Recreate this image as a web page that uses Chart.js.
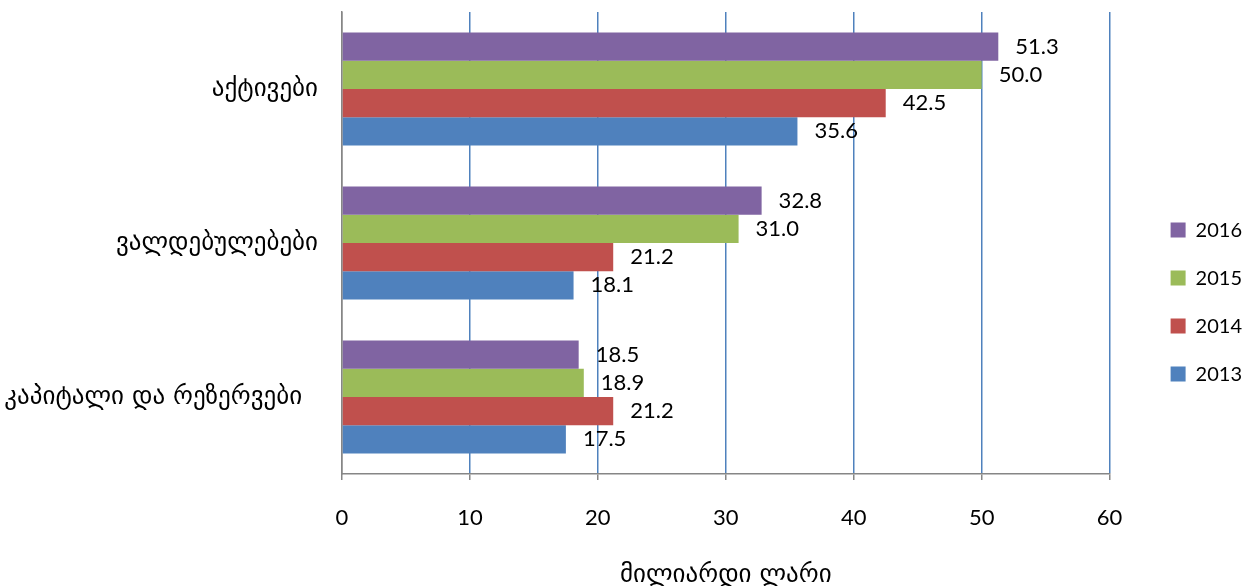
<!DOCTYPE html>
<html><head><meta charset="utf-8">
<script src="https://cdn.jsdelivr.net/npm/chart.js@4.4.0/dist/chart.umd.min.js"></script>
<style>html,body{margin:0;padding:0;background:#fff}#wrap{width:1244px;height:586px;position:relative}</style>
</head><body><div id="wrap"><canvas id="c"></canvas></div>
<script>
const categories = ['აქტივები', 'ვალდებულებები', 'კაპიტალი და რეზერვები  '];
const seriesNames = ['2016', '2015', '2014', '2013'];
const values2016 = [51.3, 32.8, 18.5];
const values2015 = [50.0, 31.0, 18.9];
const values2014 = [42.5, 21.2, 21.2];
const values2013 = [35.6, 18.1, 17.5];
const xTicks = [0, 10, 20, 30, 40, 50, 60];
const axisTitle = 'მილიარდი ლარი';

const seriesValues = [values2016, values2015, values2014, values2013];
const seriesColors = ['#8064A2', '#9BBB59', '#C0504D', '#4F81BD'];
const numFont = 'Lato, "DejaVu Sans", sans-serif';
const geoFont = '"DejaVu Sans", sans-serif';

const valueLabels = {
  id: 'valueLabels',
  afterDatasetsDraw(chart) {
    const ctx = chart.ctx;
    ctx.save();
    ctx.font = '22px ' + numFont;
    ctx.fillStyle = '#000';
    ctx.textAlign = 'left';
    ctx.textBaseline = 'middle';
    chart.data.datasets.forEach((ds, i) => {
      chart.getDatasetMeta(i).data.forEach((el, j) => {
        ctx.fillText(ds.data[j].toFixed(1), el.x + 17, el.y);
      });
    });
    ctx.restore();
  }
};

new Chart(document.getElementById('c'), {
  type: 'bar',
  data: {
    labels: categories,
    datasets: seriesNames.map((n, i) => ({
      label: n,
      data: seriesValues[i],
      backgroundColor: seriesColors[i],
      borderWidth: 0,
      categoryPercentage: 0.734,
      barPercentage: 1.0
    }))
  },
  options: {
    indexAxis: 'y',
    responsive: true,
    maintainAspectRatio: false,
    animation: false,
    layout: { padding: { top: 12, right: -8, left: 0, bottom: 0 } },
    plugins: {
      tooltip: { enabled: false },
      legend: {
        position: 'right',
        title: { display: true, text: '', font: { size: 1 }, padding: { top: 5, bottom: 0 } },
        labels: {
          boxWidth: 15, boxHeight: 15, padding: 28, color: '#000',
          font: { family: numFont, size: 20 }
        }
      }
    },
    scales: {
      x: {
        type: 'linear',
        min: xTicks[0], max: xTicks[xTicks.length - 1],
        afterBuildTicks(s) { s.ticks = xTicks.map(v => ({ value: v })); },
        grid: {
          color: c => (c.tick && c.tick.value === 0) ? '#868686' : '#4F81BD',
          lineWidth: 1.5,
          tickLength: 6,
          tickColor: '#868686',
          tickWidth: 1.5
        },
        border: { display: true, color: '#868686', width: 1.5 },
        ticks: { color: '#000', padding: 25, font: { family: numFont, size: 22 } },
        title: { display: true, text: axisTitle, color: '#000', padding: { top: 0, bottom: -4 }, font: { family: geoFont, size: 25 } },
        afterFit(s) { s.height = 112; s.paddingLeft = 0; s.paddingRight = 0; }
      },
      y: {
        type: 'category',
        grid: { display: false, drawTicks: false },
        border: { display: true, color: '#868686', width: 1.5 },
        ticks: { color: '#000', padding: 24, font: { family: geoFont, size: 25 } },
        afterFit(s) { s.width = 342; s.paddingTop = 0; s.paddingBottom = 0; }
      },
      ySpacer: {
        type: 'linear',
        axis: 'y',
        position: 'right',
        display: true,
        grid: { display: false, drawTicks: false },
        border: { display: false },
        ticks: { display: false },
        afterFit(s) { s.width = 33; s.paddingTop = 0; s.paddingBottom = 0; }
      }
    }
  },
  plugins: [valueLabels]
});
</script>
</body></html>
